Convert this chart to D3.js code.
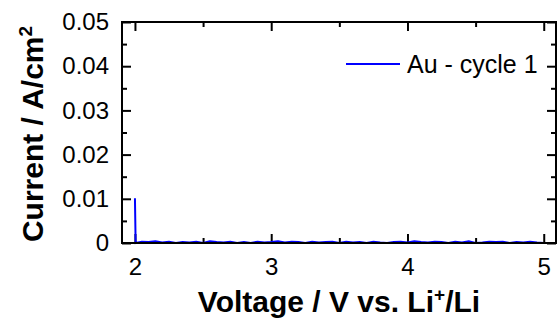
<!DOCTYPE html>
<html>
<head>
<meta charset="utf-8">
<script src="https://cdn.jsdelivr.net/npm/d3@7"></script>
<style>
  body { margin: 0; background: #fff; }
  svg { display: block; }
  svg text { font-family: "Liberation Sans", Arial, sans-serif; }
</style>
</head>
<body>
<figure id="cv" style="margin:0"></figure>
<script>
// voltage (V vs Li+/Li) and current density (A/cm2)
const voltage = [2.00, 2.005, 2.05, 2.10, 2.15, 2.20, 2.25, 2.30, 2.35, 2.40, 2.45, 2.50,
  2.55, 2.60, 2.65, 2.70, 2.75, 2.80, 2.85, 2.90, 2.95, 3.00, 3.05, 3.10, 3.15, 3.20,
  3.25, 3.30, 3.35, 3.40, 3.45, 3.50, 3.55, 3.60, 3.65, 3.70, 3.75, 3.80, 3.85, 3.90,
  3.95, 4.00, 4.05, 4.10, 4.15, 4.20, 4.25, 4.30, 4.35, 4.40, 4.45, 4.50, 4.55, 4.60,
  4.65, 4.70, 4.75, 4.80, 4.85, 4.90, 4.95, 5.00];
const current = [0.0101, 0.0000, 0.0003, 0.0002, 0.0004, 0.0001, 0.0003, 0.0000, 0.0002,
  0.0001, 0.0003, 0.0000, 0.0004, 0.0002, 0.0001, 0.0003, 0.0000, 0.0002, 0.0000, 0.0003,
  0.0001, 0.0002, 0.0004, 0.0001, 0.0003, 0.0002, 0.0000, 0.0003, 0.0001, 0.0002, 0.0003,
  0.0000, 0.0003, 0.0001, 0.0002, 0.0000, 0.0003, 0.0001, 0.0000, 0.0002, 0.0003, 0.0001,
  0.0004, 0.0002, 0.0001, 0.0003, 0.0002, 0.0000, 0.0003, 0.0001, 0.0004, 0.0000, 0.0001,
  0.0003, 0.0002, 0.0003, 0.0000, 0.0002, 0.0001, 0.0003, 0.0001, 0.0000];
const xTicks = [2, 3, 4, 5];
const xMinor = [2.5, 3.5, 4.5];
const yTicks = [0, 0.01, 0.02, 0.03, 0.04, 0.05];
const yMinor = [0.005, 0.015, 0.025, 0.035, 0.045];
const seriesName = "Au - cycle 1";

const width = 558, height = 320;
const margin = { top: 22, right: 2, bottom: 77, left: 122 };
const innerW = width - margin.left - margin.right;
const innerH = height - margin.top - margin.bottom;

const svg = d3.select("figure#cv").append("svg")
  .attr("width", width)
  .attr("height", height);

const g = svg.append("g")
  .attr("transform", "translate(" + margin.left + "," + margin.top + ")");

const x = d3.scaleLinear().domain([1.905, 5.09]).range([0, innerW]);
const y = d3.scaleLinear().domain([0, 0.05]).range([innerH, 0]);

const tickFmt = d => d === 0 ? "0" : d3.format(".2f")(d);

// axes with inward ticks, mirrored on top and right
function styleAxis(sel) {
  sel.attr("font-family", null).attr("font-size", null);
  sel.select(".domain").remove();
  sel.selectAll("line").attr("stroke", "#000").attr("stroke-width", 2);
  sel.selectAll("text").attr("fill", "#000").style("font-size", "24px");
}

g.append("g").attr("transform", "translate(0," + innerH + ")")
  .call(d3.axisBottom(x).tickValues(xTicks).tickSizeInner(-9).tickSizeOuter(0).tickPadding(15).tickFormat(d3.format("d")))
  .call(styleAxis);
g.append("g").attr("transform", "translate(0," + innerH + ")")
  .call(d3.axisBottom(x).tickValues(xMinor).tickSize(-5).tickFormat(""))
  .call(styleAxis);
g.append("g")
  .call(d3.axisTop(x).tickValues(xTicks).tickSize(-9).tickFormat(""))
  .call(styleAxis);
g.append("g")
  .call(d3.axisTop(x).tickValues(xMinor).tickSize(-5).tickFormat(""))
  .call(styleAxis);

g.append("g")
  .call(d3.axisLeft(y).tickValues(yTicks).tickSizeInner(-9).tickSizeOuter(0).tickPadding(13).tickFormat(tickFmt))
  .call(styleAxis);
g.append("g")
  .call(d3.axisLeft(y).tickValues(yMinor).tickSize(-5).tickFormat(""))
  .call(styleAxis);
g.append("g").attr("transform", "translate(" + innerW + ",0)")
  .call(d3.axisRight(y).tickValues(yTicks).tickSize(-9).tickFormat(""))
  .call(styleAxis);
g.append("g").attr("transform", "translate(" + innerW + ",0)")
  .call(d3.axisRight(y).tickValues(yMinor).tickSize(-5).tickFormat(""))
  .call(styleAxis);

// data line
const pts = voltage.map((v, i) => [v, current[i]]);
g.append("path")
  .datum(pts)
  .attr("fill", "none")
  .attr("stroke", "#0000ff")
  .attr("stroke-width", 2)
  .attr("d", d3.line().x(d => x(d[0])).y(d => y(d[1])));

// frame
g.append("rect")
  .attr("width", innerW)
  .attr("height", innerH)
  .attr("fill", "none")
  .attr("stroke", "#000")
  .attr("stroke-width", 2);

// legend
g.append("line")
  .attr("x1", 224).attr("x2", 278)
  .attr("y1", 42).attr("y2", 42)
  .attr("stroke", "#0000ff").attr("stroke-width", 2);
g.append("text")
  .attr("x", 285).attr("y", 51)
  .style("font-size", "25px")
  .text(seriesName);

// axis titles
const xt = svg.append("text")
  .attr("x", 339)
  .attr("y", 312)
  .attr("text-anchor", "middle")
  .style("font-size", "30px")
  .style("font-weight", "bold");
xt.append("tspan").text("Voltage / V vs. Li");
xt.append("tspan").attr("dy", -11).style("font-size", "19px").text("+");
xt.append("tspan").attr("dy", 11).text("/Li");

const yt = svg.append("text")
  .attr("transform", "translate(43,134) rotate(-90)")
  .attr("text-anchor", "middle")
  .style("font-size", "30px")
  .style("font-weight", "bold");
yt.append("tspan").text("Current / A/cm");
yt.append("tspan").attr("dy", -11).style("font-size", "19px").text("2");
</script>
</body>
</html>
